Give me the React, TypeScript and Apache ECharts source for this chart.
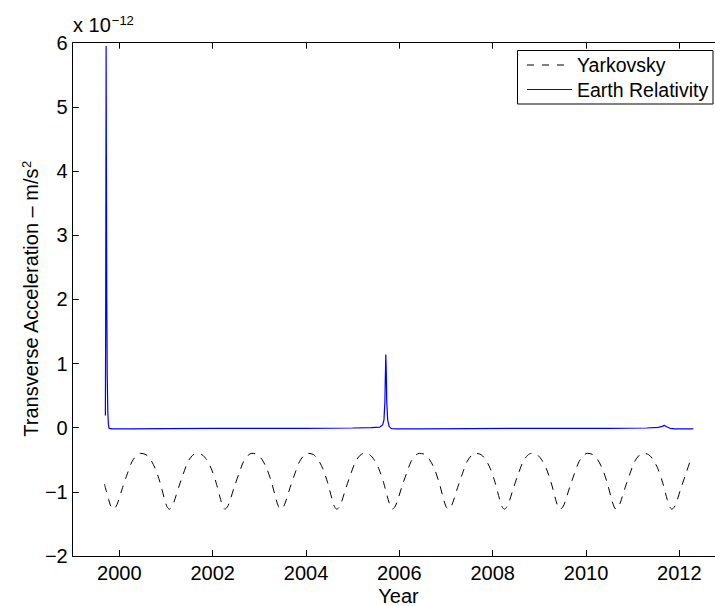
import React, { useEffect, useRef } from "react";
import * as echarts from "echarts";

// Year ticks
const xTickYears = [2000, 2002, 2004, 2006, 2008, 2010, 2012];

// Earth relativity transverse acceleration (units of 1e-12 m/s^2)
const earthRelativity: [number, number][] = [
  [1999.700, 0.19], [1999.706, 1.5], [1999.712, 4.0], [1999.716, 5.95], [1999.722, 4.2],
  [1999.730, 2.0], [1999.740, 0.8], [1999.752, 0.25], [1999.765, 0.05], [1999.780, -0.01],
  [1999.85, -0.02], [2000.2, -0.02], [2001.0, -0.015], [2002.0, -0.01], [2003.0, -0.01],
  [2004.0, -0.01], [2005.0, -0.005], [2005.4, 0.0], [2005.58, 0.01], [2005.64, 0.04],
  [2005.67, 0.12], [2005.69, 0.4], [2005.70, 0.8], [2005.71, 1.14], [2005.72, 0.85],
  [2005.73, 0.4], [2005.75, 0.12], [2005.78, 0.02], [2005.83, -0.015], [2005.95, -0.02],
  [2006.5, -0.02], [2007.5, -0.015], [2008.5, -0.01], [2009.5, -0.01], [2010.5, -0.01],
  [2011.3, -0.005], [2011.55, 0.005], [2011.63, 0.02], [2011.68, 0.035], [2011.73, 0.015],
  [2011.80, -0.01], [2011.9, -0.02], [2012.30, -0.02],
];

// Yarkovsky transverse acceleration (units of 1e-12 m/s^2)
const yarkovsky: [number, number][] = [
  [1999.68, -0.88], [1999.77, -1.12], [1999.82, -1.23],
  [1999.87, -1.27], [1999.92, -1.24], [1999.97, -1.16], [2000.07, -0.93], [2000.17, -0.72], [2000.27, -0.53], [2000.37, -0.43], [2000.45, -0.40], [2000.57, -0.42], [2000.67, -0.50], [2000.77, -0.64], [2000.87, -0.85], [2000.97, -1.12], [2001.02, -1.23],
  [2001.07, -1.27], [2001.12, -1.24], [2001.17, -1.16], [2001.27, -0.93], [2001.37, -0.72], [2001.47, -0.53], [2001.57, -0.43], [2001.65, -0.40], [2001.77, -0.42], [2001.87, -0.50], [2001.97, -0.64], [2002.07, -0.85], [2002.17, -1.12], [2002.22, -1.23],
  [2002.26, -1.27], [2002.31, -1.24], [2002.36, -1.16], [2002.46, -0.93], [2002.56, -0.72], [2002.66, -0.53], [2002.76, -0.43], [2002.84, -0.40], [2002.96, -0.42], [2003.06, -0.50], [2003.16, -0.64], [2003.26, -0.85], [2003.36, -1.12], [2003.41, -1.23],
  [2003.46, -1.27], [2003.51, -1.24], [2003.56, -1.16], [2003.66, -0.93], [2003.76, -0.72], [2003.86, -0.53], [2003.96, -0.43], [2004.04, -0.40], [2004.16, -0.42], [2004.26, -0.50], [2004.36, -0.64], [2004.46, -0.85], [2004.56, -1.12], [2004.61, -1.23],
  [2004.66, -1.27], [2004.71, -1.24], [2004.76, -1.16], [2004.86, -0.93], [2004.96, -0.72], [2005.06, -0.53], [2005.16, -0.43], [2005.24, -0.40], [2005.36, -0.42], [2005.46, -0.50], [2005.56, -0.64], [2005.66, -0.85], [2005.76, -1.12], [2005.81, -1.23],
  [2005.85, -1.27], [2005.90, -1.24], [2005.95, -1.16], [2006.05, -0.93], [2006.15, -0.72], [2006.25, -0.53], [2006.35, -0.43], [2006.43, -0.40], [2006.55, -0.42], [2006.65, -0.50], [2006.75, -0.64], [2006.85, -0.85], [2006.95, -1.12], [2007.00, -1.23],
  [2007.05, -1.27], [2007.10, -1.24], [2007.15, -1.16], [2007.25, -0.93], [2007.35, -0.72], [2007.45, -0.53], [2007.55, -0.43], [2007.63, -0.40], [2007.75, -0.42], [2007.85, -0.50], [2007.95, -0.64], [2008.05, -0.85], [2008.15, -1.12], [2008.20, -1.23],
  [2008.25, -1.27], [2008.30, -1.24], [2008.35, -1.16], [2008.45, -0.93], [2008.55, -0.72], [2008.65, -0.53], [2008.75, -0.43], [2008.83, -0.40], [2008.95, -0.42], [2009.05, -0.50], [2009.15, -0.64], [2009.25, -0.85], [2009.35, -1.12], [2009.40, -1.23],
  [2009.45, -1.27], [2009.50, -1.24], [2009.55, -1.16], [2009.65, -0.93], [2009.75, -0.72], [2009.85, -0.53], [2009.95, -0.43], [2010.03, -0.40], [2010.15, -0.42], [2010.25, -0.50], [2010.35, -0.64], [2010.45, -0.85], [2010.55, -1.12], [2010.60, -1.23],
  [2010.64, -1.27], [2010.69, -1.24], [2010.74, -1.16], [2010.84, -0.93], [2010.94, -0.72], [2011.04, -0.53], [2011.14, -0.43], [2011.22, -0.40], [2011.34, -0.42], [2011.44, -0.50], [2011.54, -0.64], [2011.64, -0.85], [2011.74, -1.12], [2011.79, -1.23],
  [2011.84, -1.27], [2011.89, -1.24], [2011.94, -1.16], [2012.04, -0.93], [2012.14, -0.72], [2012.24, -0.50],
];

const FONT = "'Liberation Sans', Arial, Helvetica, sans-serif";

export default function App() {
  const ref = useRef<HTMLDivElement>(null);
  useEffect(() => {
    if (!ref.current) return;
    const chart = echarts.init(ref.current, undefined, { renderer: "svg" });
    const axisCommon = {
      type: "value" as const,
      min: 1999,
      max: 2013,
      axisLine: { show: true, onZero: false, lineStyle: { color: "#000", width: 1 } },
      splitLine: { show: false },
    };
    chart.setOption({
      animation: false,
      backgroundColor: "#fff",
      textStyle: { fontFamily: FONT },
      grid: { left: 72.7, top: 42.7, right: 0, bottom: 50, containLabel: false },
      xAxis: [
        {
          ...axisCommon,
          position: "bottom",
          axisTick: { show: true, inside: true, length: 6, customValues: xTickYears, lineStyle: { color: "#000" } },
          axisLabel: {
            show: true,
            customValues: xTickYears,
            color: "#000",
            fontSize: 20,
            fontFamily: FONT,
            margin: 7,
            formatter: (v: number) => String(v),
          },
        },
        {
          ...axisCommon,
          position: "top",
          axisTick: { show: true, inside: true, length: 6, customValues: xTickYears, lineStyle: { color: "#000" } },
          axisLabel: { show: false, customValues: xTickYears },
        },
      ],
      yAxis: [
        {
          type: "value",
          min: -2,
          max: 6,
          interval: 1,
          position: "left",
          axisLine: { show: true, onZero: false, lineStyle: { color: "#000", width: 1 } },
          axisTick: { show: true, inside: true, length: 6, lineStyle: { color: "#000" } },
          splitLine: { show: false },
          axisLabel: {
            color: "#000",
            fontSize: 20,
            fontFamily: FONT,
            margin: 5,
            formatter: (v: number) => (v < 0 ? "\u2212" + Math.abs(v) : String(v)),
          },
        },
      ],
      series: [
        {
          name: "Yarkovsky",
          type: "line",
          data: yarkovsky,
          showSymbol: false,
          smooth: 0.3,
          lineStyle: { color: "#000", width: 1, type: [8, 7] },
          z: 2,
        },
        {
          name: "Earth Relativity",
          type: "line",
          data: earthRelativity,
          showSymbol: false,
          lineStyle: { color: "#0000ff", width: 1.2 },
          z: 3,
        },
      ],
      graphic: [
        {
          type: "text",
          x: 73,
          y: 36,
          style: {
            text: "x 10{sup|\u221212}",
            fontSize: 20,
            fontFamily: FONT,
            fill: "#000",
            verticalAlign: "bottom",
            rich: {
              sup: { fontSize: 13, fontFamily: FONT, fill: "#000", padding: [0, 0, 9, 1] },
            },
          },
        },
        {
          type: "text",
          x: 31,
          y: 299,
          rotation: Math.PI / 2,
          style: {
            text: "Transverse Acceleration \u2013 m/s{sup|2}",
            fontSize: 20,
            fontFamily: FONT,
            fill: "#000",
            align: "center",
            verticalAlign: "middle",
            rich: {
              sup: { fontSize: 13, fontFamily: FONT, fill: "#000", padding: [0, 0, 9, 0] },
            },
          },
        },
        {
          type: "text",
          x: 398.5,
          y: 596,
          style: {
            text: "Year",
            fontSize: 20,
            fontFamily: FONT,
            fill: "#000",
            align: "center",
            verticalAlign: "middle",
          },
        },
        {
          type: "rect",
          shape: { x: 517.5, y: 50.5, width: 195.5, height: 53.5 },
          style: { fill: "#fff", stroke: "#000", lineWidth: 1 },
          z: 10,
        },
        {
          type: "line",
          shape: { x1: 527, y1: 65, x2: 572, y2: 65 },
          style: { stroke: "#000", lineWidth: 1, lineDash: [7, 8] },
          z: 11,
        },
        {
          type: "line",
          shape: { x1: 527, y1: 89.5, x2: 572, y2: 89.5 },
          style: { stroke: "#0000ff", lineWidth: 1.2 },
          z: 11,
        },
        {
          type: "text",
          x: 577,
          y: 65,
          style: { text: "Yarkovsky", fontSize: 19.5, fontFamily: FONT, fill: "#000", verticalAlign: "middle" },
          z: 11,
        },
        {
          type: "text",
          x: 577,
          y: 89.5,
          style: { text: "Earth Relativity", fontSize: 19.5, fontFamily: FONT, fill: "#000", verticalAlign: "middle" },
          z: 11,
        },
      ],
    });
    return () => chart.dispose();
  }, []);
  return (
    <div style={{ position: "fixed", left: 0, top: 0, width: 715, height: 606, overflow: "hidden", background: "#fff" }}>
      <div ref={ref} style={{ position: "absolute", left: 0, top: 0, width: 726, height: 606 }} />
    </div>
  );
}
